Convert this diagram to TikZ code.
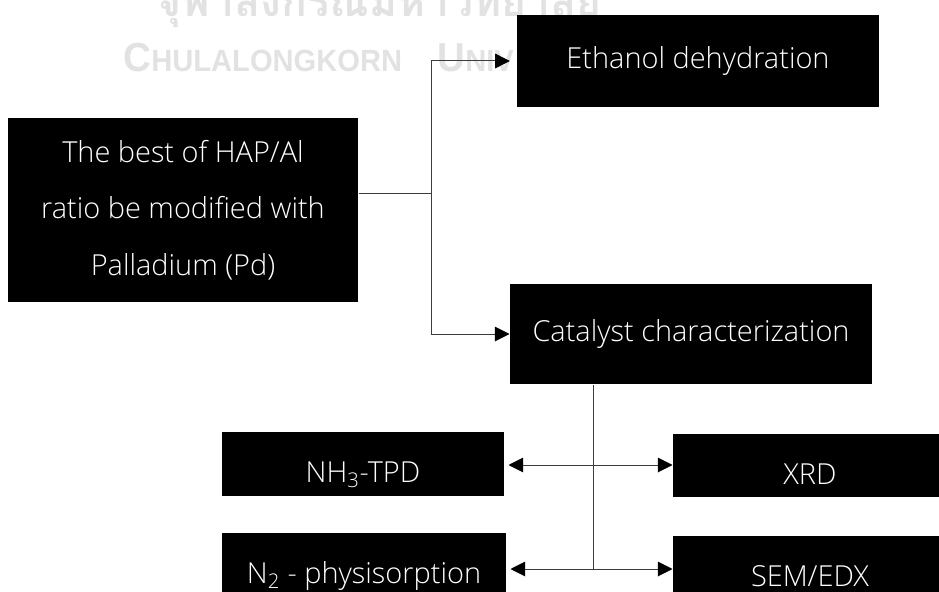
\documentclass[tikz,border=0pt]{standalone}
\usepackage{fontspec}
\setmainfont{Open Sans Light}
\newfontfamily\thaifont[Script=Thai]{Loma}
\newfontfamily\wmfont{Liberation Sans}
\usetikzlibrary{arrows.meta}

\definecolor{wmgrey}{RGB}{226,226,226}
\definecolor{linegrey}{RGB}{60,60,60}

\tikzset{every picture/.style={line width=0.75pt}}
\tikzset{
	blackbox/.style={fill=black,text=white,inner sep=0pt,align=center,font=\fontsize{21.7}{26}\selectfont},
	lowtext/.style={text height=28pt,text depth=0pt},
	arrow/.style={draw=linegrey,-{Triangle[length=11pt,width=11pt,color=black]}},
	wire/.style={draw=linegrey},
	mark text/.style={anchor=base west,inner sep=0pt,text=wmgrey,font=\wmfont\bfseries}
}
\newcommand{\wmcaps}[2]{\scalebox{0.95}[1]{\fontsize{30.4}{31}\selectfont #1\fontsize{23}{24}\selectfont #2}}

\begin{document}
\begin{tikzpicture}[x=0.75pt,y=0.75pt,yscale=-1,xscale=1]
	\clip (0,0) rectangle (939,592); %page of 939 x 592
	
	%Watermark
	\node [anchor=base,inner sep=0pt,text=wmgrey,font=\thaifont\bfseries\fontsize{32}{32}\selectfont] (wmthai) at (379,17) {จุฬาลงกรณ์มหาวิทยาลัย};
	\node [mark text] (wmchula) at (123,72) {\wmcaps{C}{HULALONGKORN}};
	\node [mark text] (wmuniv) at (437,72) {\wmcaps{U}{NIV}};
	
	%Boxes
	\node [blackbox,minimum width=262.5pt,minimum height=138pt,font=\fontsize{21.7}{42.4}\selectfont] (best) at (183,210) {The best of HAP/Al\\ratio be modified with\\Palladium (Pd)};
	\node [blackbox,minimum width=271.5pt,minimum height=69pt] (ethanol) at (698,61) {Ethanol dehydration};
	\node [blackbox,minimum width=271.5pt,minimum height=75pt] (catalyst) at (691,334) {Catalyst characterization};
	\node [blackbox,lowtext,minimum width=211.5pt,minimum height=48pt] (nh3) at (363,464) {NH\textsubscript{3}-TPD};
	\node [blackbox,lowtext,minimum width=205.5pt,minimum height=47pt] (xrd) at (810,465.5) {XRD};
	\node [blackbox,lowtext,minimum width=213pt,minimum height=48pt] (n2) at (364,565) {N\textsubscript{2} - physisorption};
	\node [blackbox,lowtext,minimum width=205.5pt,minimum height=48pt] (sem) at (810,568) {SEM/EDX};
	
	%Split lines
	\coordinate (split) at (431,193);
	\draw [wire] (best.east |- split) -- (split);
	\draw [arrow,shorten >=5pt] (split) |- (ethanol.west);
	\draw [arrow] (split) |- (catalyst.west);
	
	%Characterization lines
	\coordinate (hubA) at (593,465);
	\coordinate (hubB) at (593,569);
	\draw [wire] (catalyst.south -| hubA) -- (hubB);
	\draw [arrow,shorten >=3pt] (hubA) -- (nh3.east |- hubA);
	\draw [arrow] (hubA) -- (xrd.west |- hubA);
	\draw [arrow,shorten >=3pt] (hubB) -- (n2.east |- hubB);
	\draw [arrow] (hubB) -- (sem.west |- hubB);
	
\end{tikzpicture}
\end{document}
